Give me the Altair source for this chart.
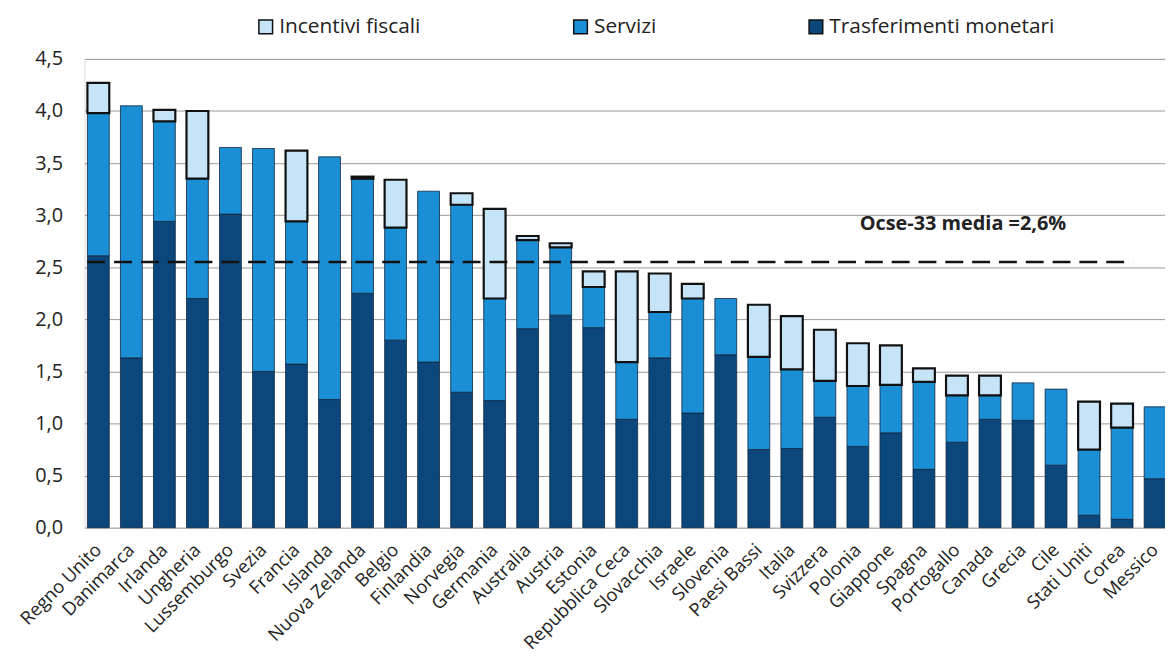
import altair as alt
import pandas as pd

countries = ["Regno Unito", "Danimarca", "Irlanda", "Ungheria", "Lussemburgo", "Svezia",
             "Francia", "Islanda", "Nuova Zelanda", "Belgio", "Finlandia", "Norvegia",
             "Germania", "Australia", "Austria", "Estonia", "Repubblica Ceca", "Slovacchia",
             "Israele", "Slovenia", "Paesi Bassi", "Italia", "Svizzera", "Polonia",
             "Giappone", "Spagna", "Portogallo", "Canada", "Grecia", "Cile",
             "Stati Uniti", "Corea", "Messico"]
trasferimenti = [2.61, 1.63, 2.94, 2.20, 3.01, 1.50, 1.57, 1.23, 2.25, 1.80, 1.59, 1.30,
                 1.22, 1.91, 2.04, 1.92, 1.04, 1.63, 1.10, 1.66, 0.75, 0.76, 1.06, 0.78,
                 0.91, 0.56, 0.82, 1.04, 1.03, 0.60, 0.12, 0.08, 0.47]
servizi = [1.37, 2.42, 0.96, 1.15, 0.64, 2.14, 1.37, 2.33, 1.10, 1.08, 1.64, 1.80,
           0.98, 0.85, 0.65, 0.39, 0.55, 0.44, 1.10, 0.54, 0.89, 0.76, 0.35, 0.58,
           0.46, 0.84, 0.45, 0.23, 0.36, 0.73, 0.63, 0.88, 0.69]
incentivi = [0.29, 0.0, 0.11, 0.65, 0.0, 0.0, 0.68, 0.0, 0.02, 0.46, 0.0, 0.11,
             0.86, 0.04, 0.04, 0.15, 0.87, 0.37, 0.14, 0.0, 0.50, 0.51, 0.49, 0.41,
             0.38, 0.13, 0.19, 0.19, 0.0, 0.0, 0.46, 0.23, 0.0]
series_names = ["Incentivi fiscali", "Servizi", "Trasferimenti monetari"]
series_colors = ["#c6e4f7", "#1b8fd6", "#0c477c"]
media_value = 2.55
media_label = "Ocse-33 media =2,6%"

rows = []
for i, c in enumerate(countries):
    for name, vals, o in [("Trasferimenti monetari", trasferimenti, 0),
                          ("Servizi", servizi, 1),
                          ("Incentivi fiscali", incentivi, 2)]:
        if vals[i] > 0:
            rows.append({"paese": c, "serie": name, "valore": vals[i], "ord": o})
df = pd.DataFrame(rows)

FONT = "Open Sans"
xscale = alt.Scale(domain=countries, paddingInner=0.33, paddingOuter=0.085)

bars = alt.Chart(df).mark_bar(size=22).encode(
    x=alt.X("paese:N", scale=xscale, title=None,
            axis=alt.Axis(labelAngle=315, labelAlign="right", labelBaseline="middle",
                          labelFontSize=18.5, labelColor="#222", ticks=False, domain=False,
                          labelPadding=19, labelFont=FONT)),
    y=alt.Y("valore:Q", stack="zero", title=None,
            scale=alt.Scale(domain=[0, 4.5], nice=False),
            axis=alt.Axis(values=[0, 0.5, 1, 1.5, 2, 2.5, 3, 3.5, 4, 4.5],
                          labelExpr="replace(format(datum.value, '.1f'), '.', ',')",
                          labelFontSize=20, labelColor="#222", labelPadding=22,
                          ticks=False, domain=False, grid=True, gridColor="#9a9a9a",
                          gridWidth=1, labelFont=FONT)),
    color=alt.Color("serie:N", scale=alt.Scale(domain=series_names, range=series_colors),
                    legend=alt.Legend(title=None, orient="none", direction="horizontal",
                                      legendX=172, legendY=-43, columnPadding=150,
                                      symbolType="square", symbolSize=190,
                                      symbolStrokeColor="#111", symbolStrokeWidth=1.5,
                                      labelFontSize=21, labelColor="#222", labelFont=FONT,
                                      labelOffset=3, labelLimit=400)),
    order=alt.Order("ord:Q", sort="ascending"),
    stroke=alt.condition(alt.datum.serie == "Incentivi fiscali",
                         alt.value("#111111"), alt.value("#10263d")),
    strokeWidth=alt.condition(alt.datum.serie == "Incentivi fiscali",
                              alt.value(2.2), alt.value(0.8)),
)

line_df = pd.DataFrame({"paese": [countries[0]], "fine": [countries[-2]], "y": [media_value]})
rule = alt.Chart(line_df).mark_rule(strokeDash=[18, 9], strokeWidth=2.5, color="#111").encode(
    x=alt.X("paese:N", scale=xscale, bandPosition=0),
    x2=alt.X2("fine:N", bandPosition=1),
    y="y:Q",
)

text_df = pd.DataFrame({"paese": ["Portogallo"], "y": [2.91], "t": [media_label]})
label = alt.Chart(text_df).mark_text(fontSize=20, fontWeight="bold", font=FONT,
                                     color="#222", dx=6).encode(
    x=alt.X("paese:N", scale=xscale),
    y="y:Q",
    text="t:N",
)

chart = alt.layer(bars, rule, label).properties(
    width=1092, height=472,
    autosize=alt.AutoSizeParams(type="none"),
    padding={"left": 77, "top": 49, "right": -4, "bottom": 131},
).configure_view(stroke=None).configure(font=FONT)

chart.save("out.html", embed_options={"renderer": "svg", "actions": False})
